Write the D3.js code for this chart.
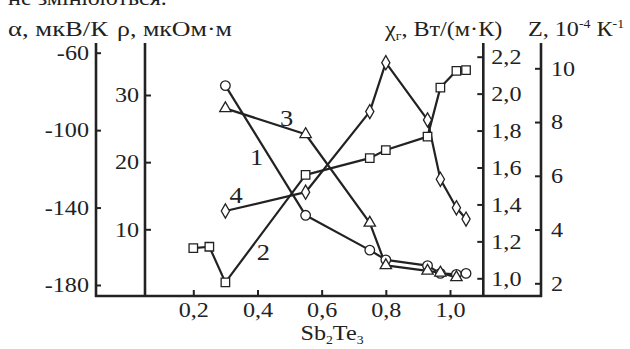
<!DOCTYPE html>
<html>
<head>
<meta charset="utf-8">
<script src="https://cdn.jsdelivr.net/npm/d3@7"></script>
<style>
body { margin: 0; background: #fff; }
svg text { font-family: "Liberation Serif", "Times New Roman", serif; fill: #222; }
</style>
</head>
<body>
<div id="chart"></div>
<script>
// values
var xCircles = [0.3, 0.55, 0.75, 0.8, 0.93, 0.97, 1.02, 1.05];
var alphaVals = [-77, -144, -162, -167, -170, -174, -174.5, -174];

var xSquares = [0.2, 0.25, 0.3, 0.55, 0.75, 0.8, 0.93, 0.97, 1.02, 1.05];
var rhoVals = [7.2, 7.4, 2.1, 18.1, 20.6, 21.8, 23.8, 31.1, 33.6, 33.7];

var xTriangles = [0.3, 0.55, 0.75, 0.8, 0.93, 0.97, 1.02];
var chiVals = [1.92, 1.78, 1.30, 1.07, 1.04, 1.03, 1.005];

var xDiamonds = [0.3, 0.55, 0.75, 0.8, 0.93, 0.97, 1.02, 1.05];
var zVals = [4.69, 5.39, 8.39, 10.21, 8.08, 5.87, 4.81, 4.39];

var xTicks = [0.2, 0.4, 0.6, 0.8, 1.0];
var alphaTicks = [-180, -140, -100, -60];
var rhoTicks = [10, 20, 30];
var chiTicks = [1.0, 1.2, 1.4, 1.6, 1.8, 2.0, 2.2];
var zTicks = [2, 4, 6, 8, 10];

var W = 630, H = 349;
var frame = { top: 43, bottom: 296, left: 96, right: 541 };
var ink = "#222";
var stretch = 1.15; // the scanned type is a bit wider than Times

var svg = d3.select("#chart").append("svg")
    .attr("width", W)
    .attr("height", H);

var x = d3.scaleLinear().domain([0.2, 1.0]).range([193.3, 450]);
var yA = d3.scaleLinear().domain([-180, -60]).range([285, 52.7]);
var yR = d3.scaleLinear().domain([10, 30]).range([229.3, 95]);
var yC = d3.scaleLinear().domain([1.0, 2.2]).range([278.3, 56.7]);
var yZ = d3.scaleLinear().domain([2, 10]).range([283.3, 68.3]);

var comma = function (d) { return d.toFixed(1).replace(".", ","); };
var plain = function (d) { return String(d); };

function styleAxis(g) {
    g.select(".domain").remove();
    g.selectAll(".tick line").attr("stroke", ink).attr("stroke-width", 2);
    g.selectAll(".tick text")
        .attr("fill", ink)
        .style("font-family", "'Liberation Serif', serif")
        .style("font-size", "21px")
        .attr("x", function () { return (+d3.select(this).attr("x") || 0) / stretch; })
        .attr("transform", "scale(" + stretch + ",1)");
}

// alpha axis
svg.append("g")
    .attr("transform", "translate(" + frame.left + ",0)")
    .call(d3.axisLeft(yA).tickValues(alphaTicks).tickFormat(plain).tickSizeInner(-5).tickSizeOuter(0).tickPadding(7))
    .call(styleAxis);

// rho axis
svg.append("g")
    .attr("transform", "translate(145,0)")
    .call(d3.axisLeft(yR).tickValues(rhoTicks).tickFormat(plain).tickSizeInner(-6).tickSizeOuter(0).tickPadding(6))
    .call(styleAxis);

// chi axis
svg.append("g")
    .attr("transform", "translate(483.3,0)")
    .call(d3.axisRight(yC).tickValues(chiTicks).tickFormat(comma).tickSizeInner(-6).tickSizeOuter(0).tickPadding(8))
    .call(styleAxis);

// Z axis
svg.append("g")
    .attr("transform", "translate(" + frame.right + ",0)")
    .call(d3.axisRight(yZ).tickValues(zTicks).tickFormat(plain).tickSizeInner(-6).tickSizeOuter(0).tickPadding(10))
    .call(styleAxis);

// x axis
svg.append("g")
    .attr("transform", "translate(0," + frame.bottom + ")")
    .call(d3.axisBottom(x).tickValues(xTicks).tickFormat(comma).tickSizeInner(-6).tickSizeOuter(0).tickPadding(6))
    .call(styleAxis)
    .selectAll(".tick text").attr("dy", "0.72em");

// axis lines
[frame.left, 145, 483.3, frame.right].forEach(function (xx) {
    svg.append("line")
        .attr("x1", xx).attr("x2", xx)
        .attr("y1", frame.top).attr("y2", frame.bottom + 1)
        .attr("stroke", ink).attr("stroke-width", 2.6);
});
svg.append("line")
    .attr("x1", frame.left - 1).attr("x2", frame.right + 1)
    .attr("y1", frame.bottom).attr("y2", frame.bottom)
    .attr("stroke", ink).attr("stroke-width", 2.6);

// series
var series = [
    { xs: xCircles, ys: alphaVals, scale: yA, shape: "circle" },
    { xs: xSquares, ys: rhoVals, scale: yR, shape: "square" },
    { xs: xTriangles, ys: chiVals, scale: yC, shape: "triangle" },
    { xs: xDiamonds, ys: zVals, scale: yZ, shape: "diamond" }
];

var line = d3.line();
series.forEach(function (s) {
    s.pts = s.xs.map(function (v, i) { return [x(v), s.scale(s.ys[i])]; });
    svg.append("path")
        .attr("d", line(s.pts))
        .attr("fill", "none")
        .attr("stroke", ink)
        .attr("stroke-width", 2.2)
        .attr("stroke-linejoin", "round");
});

var symbols = {
    circle: d3.symbol().type(d3.symbolCircle).size(72),
    square: d3.symbol().type(d3.symbolSquare).size(72),
    triangle: d3.symbol().type(d3.symbolTriangle).size(56),
    diamond: d3.symbol().type(d3.symbolDiamond).size(58)
};

series.forEach(function (s) {
    svg.append("g").selectAll("path")
        .data(s.pts)
        .enter().append("path")
        .attr("transform", function (d) { return "translate(" + d[0] + "," + d[1] + ")"; })
        .attr("d", symbols[s.shape]())
        .attr("fill", "#fff")
        .attr("stroke", ink)
        .attr("stroke-width", 1.3);
});

// wide text helper: placed with translate, then stretched
function wideText(px, py, size, anchor) {
    return svg.append("text")
        .attr("transform", "translate(" + px + "," + py + ") scale(" + stretch + ",1)")
        .attr("text-anchor", anchor || "start")
        .style("font-size", size + "px");
}

// curve numbers
var curveLabels = [
    { t: "1", x: 256.7, y: 157 },
    { t: "2", x: 263.3, y: 252 },
    { t: "3", x: 286.7, y: 118 },
    { t: "4", x: 236, y: 195 }
];
curveLabels.forEach(function (d) {
    wideText(d.x, d.y, 23, "middle").attr("dy", "0.35em").text(d.t);
});

// cut-off text line at the top
wideText(8, 5, 21).text("не змінюються.");

// axis titles
svg.append("text")
    .attr("x", 8).attr("y", 36)
    .attr("textLength", 100).attr("lengthAdjust", "spacingAndGlyphs")
    .style("font-size", "21px")
    .text("α, мкВ/К");

svg.append("text")
    .attr("x", 117).attr("y", 36)
    .attr("textLength", 115).attr("lengthAdjust", "spacingAndGlyphs")
    .style("font-size", "21px")
    .text("ρ, мкОм·м");

var chiT = wideText(385, 36, 21);
chiT.append("tspan").text("χ");
chiT.append("tspan").attr("dy", 4).style("font-size", "12px").text("г");
chiT.append("tspan").attr("dy", -4).text(", Вт/(м·К)");

var zT = wideText(528, 36, 21);
zT.append("tspan").text("Z, 10");
zT.append("tspan").attr("dy", -8).style("font-size", "12px").text("-4");
zT.append("tspan").attr("dy", 8).text(" К");
zT.append("tspan").attr("dy", -8).style("font-size", "12px").text("-1");

var xT = wideText(332, 340, 21, "middle");
xT.append("tspan").text("Sb");
xT.append("tspan").attr("dy", 4).style("font-size", "12px").text("2");
xT.append("tspan").attr("dy", -4).text("Te");
xT.append("tspan").attr("dy", 4).style("font-size", "12px").text("3");
</script>
</body>
</html>
